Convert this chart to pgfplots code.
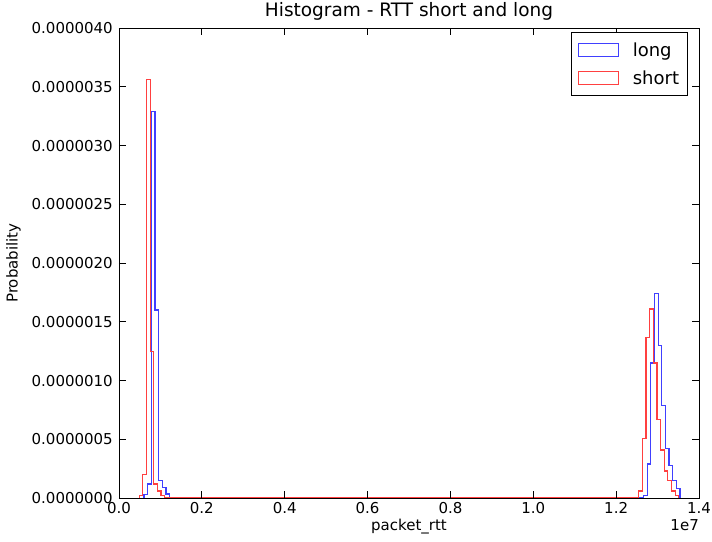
\documentclass[border=0pt]{standalone}
\usepackage{fontspec}
\setmainfont{DejaVu Sans}
\usepackage{pgfplots}
\pgfplotsset{compat=1.18}
\definecolor{mplblue}{HTML}{4040FF}
\definecolor{mplred}{HTML}{FF4040}
\begin{document}
\begin{tikzpicture}
\begin{axis}[
  scale only axis,
  width=580pt, height=470pt,
  xmin=0, xmax=14000000,
  ymin=0, ymax=4e-6,
  axis on top,
  scaled x ticks=false, scaled y ticks=false,
  xtick={0,2000000,4000000,6000000,8000000,10000000,12000000,14000000},
  xticklabels={0.0,0.2,0.4,0.6,0.8,1.0,1.2,1.4},
  ytick={0,0.5e-6,1e-6,1.5e-6,2e-6,2.5e-6,3e-6,3.5e-6,4e-6},
  yticklabels={0.0000000,0.0000005,0.0000010,0.0000015,0.0000020,0.0000025,0.0000030,0.0000035,0.0000040},
  tick align=inside,
  major tick length=7pt,
  every tick/.style={black, line width=0.9pt},
  axis line style={line width=0.9pt},
  tick label style={font=\fontsize{15}{18}\selectfont},
  xticklabel style={inner sep=0pt, yshift=-4pt},
  yticklabel style={inner sep=0pt, xshift=-6pt},
  title={Histogram - RTT short and long},
  title style={font=\fontsize{18.5}{22}\selectfont, at={(0.5,1)}, anchor=south, inner sep=2pt},
  xlabel={packet\_rtt},
  xlabel style={font=\fontsize{15}{18}\selectfont, at={(axis description cs:0.5,0)}, anchor=north, inner sep=0pt, yshift=-21pt},
  ylabel={Probability},
  ylabel style={font=\fontsize{15}{18}\selectfont, at={(axis description cs:0,0.5)}, anchor=south, inner sep=0pt, yshift=98pt},
  legend style={at={(1,1)}, anchor=north east, xshift=-11pt, yshift=-4pt,
    draw=black, line width=0.9pt, font=\fontsize{18}{21}\selectfont,
    inner xsep=6.5pt, inner ysep=8pt, row sep=9pt,
    nodes={inner sep=2pt},
    /tikz/every odd column/.append style={column sep=12pt}},
  legend cell align=left,
  legend image code/.code={\draw[#1] (0pt,-6.5pt) rectangle (40pt,6.5pt);},
]
\addplot[mplblue, line width=1.25pt, const plot mark left] coordinates {
(606000,0)(606000,0.03e-6)(694000,0.12e-6)(782000,3.29e-6)(870000,1.60e-6)(958000,0.15e-6)(1046000,0.09e-6)(1134000,0.035e-6)(1222000,0)
(12662000,0.02e-6)(12750000,0.29e-6)(12838000,1.15e-6)(12926000,1.74e-6)(13014000,1.30e-6)(13102000,0.79e-6)(13190000,0.42e-6)(13278000,0.28e-6)(13366000,0.15e-6)(13454000,0.08e-6)(13542000,0)
};
\addlegendentry{long}
\addplot[mplred, line width=1.25pt, const plot mark left] coordinates {
(488000,0)(488000,0.02e-6)(576000,0.20e-6)(664000,3.56e-6)(752000,1.25e-6)(840000,0.12e-6)(928000,0.06e-6)(1016000,0.02e-6)(1104000,0)
(12544000,0.06e-6)(12632000,0.51e-6)(12720000,1.37e-6)(12808000,1.61e-6)(12896000,1.15e-6)(12984000,0.67e-6)(13072000,0.41e-6)(13160000,0.23e-6)(13248000,0.15e-6)(13336000,0.06e-6)(13424000,0.02e-6)(13512000,0)
};
\addlegendentry{short}
\end{axis}
\node[anchor=north east, inner sep=0pt, font=\fontsize{15}{18}\selectfont, yshift=-21pt] at (current axis.south east) {1e7};
\path (current axis.south west) ++(-119pt,-43pt) rectangle ++(712pt,532pt);
\end{tikzpicture}
\end{document}
